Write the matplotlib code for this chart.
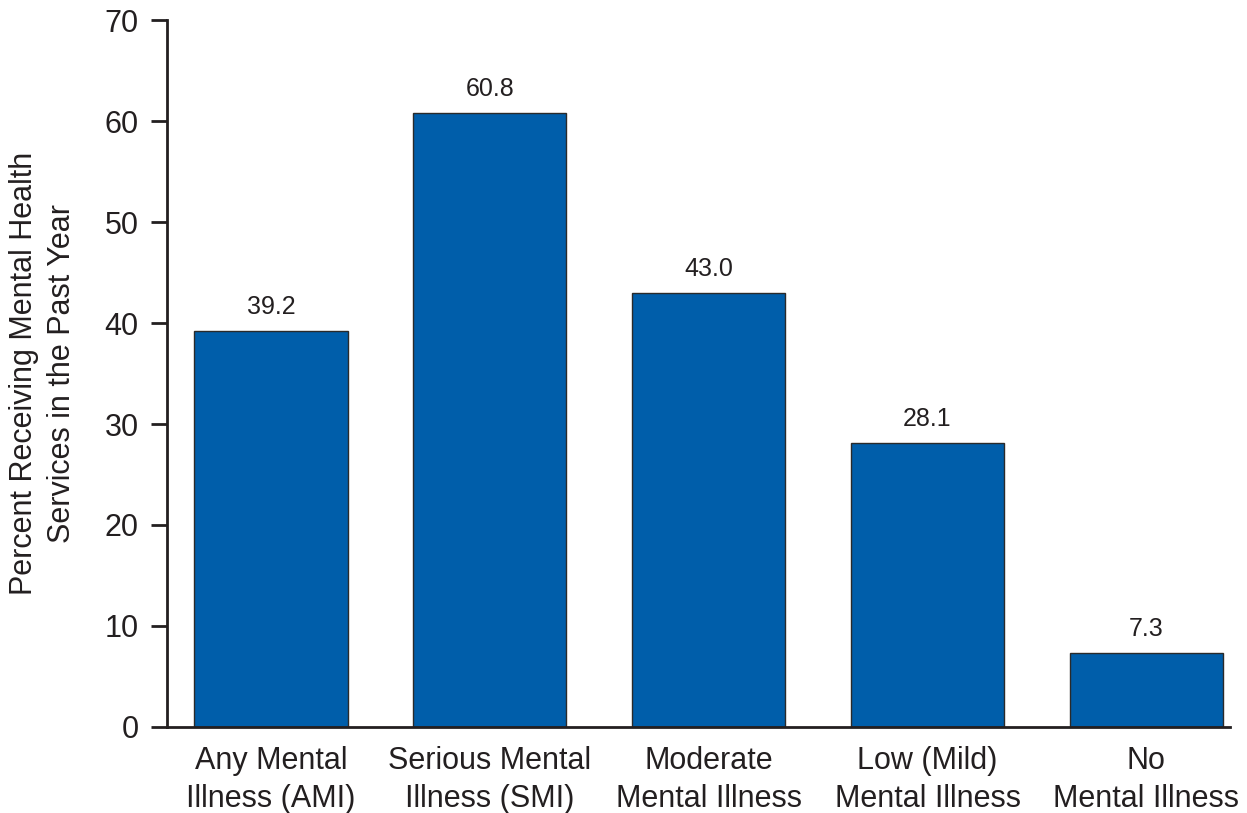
import numpy as np
import matplotlib
matplotlib.use("Agg")
import matplotlib.pyplot as plt

plt.rcParams['font.family'] = ['Liberation Sans', 'DejaVu Sans']

categories = ["Any Mental\nIllness (AMI)", "Serious Mental\nIllness (SMI)",
              "Moderate\nMental Illness", "Low (Mild)\nMental Illness",
              "No\nMental Illness"]
values = [39.2, 60.8, 43.0, 28.1, 7.3]
yticks = [0, 10, 20, 30, 40, 50, 60, 70]

fig = plt.figure(figsize=(12.47, 8.13), dpi=100)
ax = fig.add_axes([0.134, 0.106, 0.852, 0.869])

x = np.arange(len(values))
ax.bar(x, values, width=0.7, color='#005EAA', edgecolor='#2a2a2a', linewidth=1.0)
for xi, v in zip(x, values):
    ax.text(xi, v + 1.2, f"{v:.1f}", ha='center', va='bottom', fontsize=18, color='#231f20')

ax.set_xlim(-0.475, 4.38)
ax.set_ylim(0, 70)
ax.set_yticks(yticks)
ax.set_xticks(x)
ax.set_xticklabels(categories, fontsize=22, color='#231f20', linespacing=1.35)
ax.tick_params(axis='x', length=0, pad=14)
ax.tick_params(axis='y', direction='out', length=11.5, width=2, labelsize=22,
               colors='#231f20', pad=9)
ax.set_ylabel("Percent Receiving Mental Health\nServices in the Past Year",
              fontsize=22, color='#231f20', linespacing=1.35, labelpad=20)
for s in ['top', 'right']:
    ax.spines[s].set_visible(False)
for s in ['left', 'bottom']:
    ax.spines[s].set_linewidth(2)
    ax.spines[s].set_color('#231f20')

fig.savefig("out.png", dpi=100)
